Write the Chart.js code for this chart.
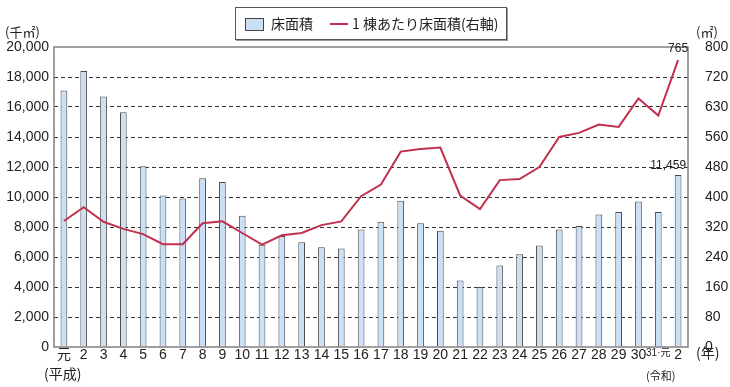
<!DOCTYPE html>
<html lang="ja">
<head>
<meta charset="utf-8">
<script src="https://cdn.jsdelivr.net/npm/chart.js@4.4.0/dist/chart.umd.min.js"></script>
<style>
  html, body { margin: 0; padding: 0; background: #fff; }
  #wrap { position: relative; width: 730px; height: 387px; }
  #legend {
    position: absolute; left: 235px; top: 7px; width: 272px; height: 33px;
    border: 1px solid #555; box-shadow: 1px 1px 0 #999; box-sizing: border-box;
    font-family: "Noto Sans CJK JP", sans-serif; font-size: 14px; color: #222;
  }
  #legend span { position: absolute; top: 6px; line-height: 18px; white-space: nowrap; }
  .sw-bar { position: absolute; left: 9px; top: 10px; width: 17px; height: 11px; background: #cbdff5; border: 1px solid #444; }
  .sw-line { position: absolute; left: 94px; top: 15px; width: 18px; height: 2px; background: #c0304f; }
  .note { position: absolute; font-family: "Noto Sans CJK JP", sans-serif; color: #222; white-space: nowrap; line-height: 1; }
</style>
</head>
<body>
<div id="wrap">
  <canvas id="chart" width="730" height="387"></canvas>
  <div id="legend">
    <div class="sw-bar"></div><span style="left:35px">床面積</span>
    <div class="sw-line"></div><span style="left:116px">1 棟あたり床面積(右軸)</span>
  </div>
  <div class="note" style="left:5px;top:25px;font-size:13px">(千㎡)</div>
  <div class="note" style="left:696px;top:25px;font-size:13px">(㎡)</div>
  <div class="note" style="left:696px;top:345px;font-size:14px">(年)</div>
  <div class="note" style="left:44px;top:366px;font-size:14px">(平成)</div>
  <div class="note" style="left:646px;top:370px;font-size:11px">(令和)</div>
</div>
<script>
// 年次(平成元年〜令和2年)
const years = ['元', '2', '3', '4', '5', '6', '7', '8', '9', '10',
  '11', '12', '13', '14', '15', '16', '17', '18', '19', '20',
  '21', '22', '23', '24', '25', '26', '27', '28', '29', '30', '31·元', '2'];

// 床面積(千㎡)
const floorArea = [17100, 18400, 16700, 15650, 12050, 10100, 9900, 11250, 11000, 8750,
  6820, 7400, 6980, 6650, 6560, 7830, 8350, 9750, 8250, 7750,
  4430, 4000, 5440, 6180, 6760, 7830, 8070, 8830, 9000, 9700, 9000, 11459];

// 1棟あたり床面積(㎡)
const areaPerBuilding = [336, 373, 334, 315, 301, 274, 274, 330, 335, 304,
  273, 298, 304, 325, 335, 402, 433, 521, 528, 532,
  404, 368, 445, 448, 480, 560, 571, 593, 587, 663, 617, 765];

// 右軸の目盛(原図の表記のまま)
const rightTickLabels = ['0', '80', '160', '240', '320', '400', '480', '560', '630', '720', '800'];

const numFont = '"Liberation Sans", "Noto Sans CJK JP", sans-serif';

const frameAndLabels = {
  id: 'frameAndLabels',
  afterDatasetsDraw(chart) {
    const { ctx, chartArea: a, scales } = chart;
    ctx.save();
    ctx.strokeStyle = '#808080';
    ctx.lineWidth = 1.5;
    ctx.strokeRect(a.left, a.top, a.right - a.left, a.bottom - a.top);

    const last = years.length - 1;
    const x = scales.x.getPixelForValue(last);
    ctx.fillStyle = '#222';
    ctx.font = '12px ' + numFont;
    ctx.textBaseline = 'bottom';
    ctx.textAlign = 'center';
    ctx.fillText(String(areaPerBuilding[last]), x, scales.y1.getPixelForValue(areaPerBuilding[last]) - 5);
    ctx.textAlign = 'right';
    ctx.fillText(floorArea[last].toLocaleString('en-US'), x + 8, scales.y.getPixelForValue(floorArea[last]) - 3);
    ctx.restore();
  }
};

new Chart(document.getElementById('chart').getContext('2d'), {
  data: {
    labels: years,
    datasets: [
      {
        type: 'line',
        label: '1 棟あたり床面積(右軸)',
        data: areaPerBuilding,
        yAxisID: 'y1',
        borderColor: '#c0304f',
        borderWidth: 2,
        pointRadius: 0,
        tension: 0,
        order: 0
      },
      {
        type: 'bar',
        label: '床面積',
        data: floorArea,
        yAxisID: 'y',
        backgroundColor: '#cbdff5',
        borderColor: '#4a4a4a',
        borderWidth: 1,
        barPercentage: 0.34,
        categoryPercentage: 1,
        order: 1
      }
    ]
  },
  options: {
    responsive: false,
    animation: false,
    layout: { padding: { top: 47, left: 0, right: 0, bottom: 0 } },
    plugins: { legend: { display: false }, tooltip: { enabled: false } },
    scales: {
      x: {
        offset: true,
        grid: { display: false, drawTicks: false, tickLength: 0 },
        border: { display: false },
        ticks: {
          autoSkip: false, maxRotation: 0, padding: 0, color: '#222',
          font: ctx => ({ family: numFont, size: ctx.index === 30 ? 10 : 14 })
        },
        afterFit: s => { s.height = 40; }
      },
      y: {
        position: 'left',
        min: 0, max: 20000,
        border: { display: false, dash: [4, 3] },
        grid: {
          drawTicks: false,
          color: c => (c.tick && (c.tick.value === 0 || c.tick.value === 20000)) ? 'rgba(0,0,0,0)' : '#333',
          lineWidth: 1
        },
        ticks: {
          stepSize: 2000, padding: 5, color: '#222',
          font: { family: numFont, size: 14 },
          callback: v => v.toLocaleString('en-US')
        },
        afterFit: s => { s.width = 54; }
      },
      y1: {
        position: 'right',
        min: 0, max: 800,
        border: { display: false },
        grid: { display: false },
        ticks: {
          stepSize: 80, padding: 9, color: '#222',
          font: { family: numFont, size: 14 },
          callback: (v, i) => rightTickLabels[i]
        },
        afterFit: s => { s.width = 42; }
      }
    }
  },
  plugins: [frameAndLabels]
});
</script>
</body>
</html>
